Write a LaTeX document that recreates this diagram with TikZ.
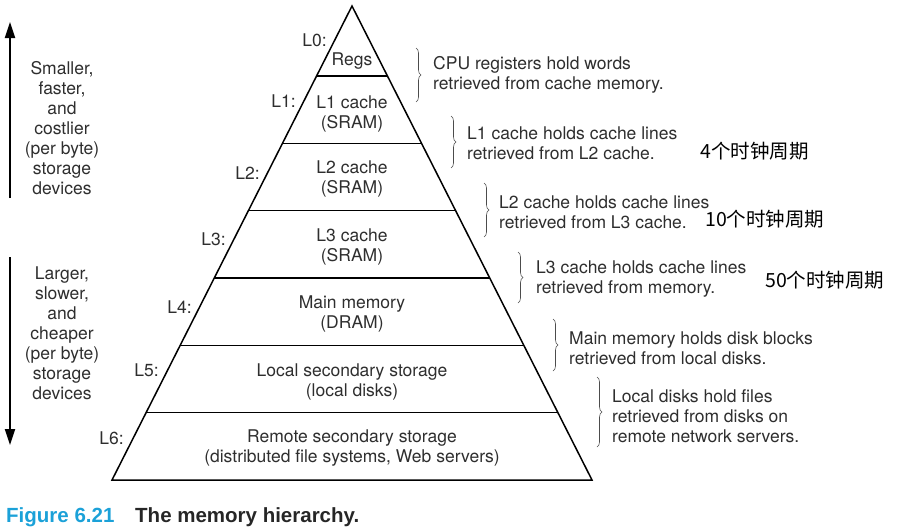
\documentclass[tikz,border=0pt]{standalone}
\usepackage{fontspec}
\setmainfont{TeX Gyre Heros}
\newfontfamily\cjkfont{Noto Sans CJK SC}
\newfontfamily\capfont{Liberation Sans}
\usetikzlibrary{arrows.meta,decorations.pathreplacing,calc}
\definecolor{txt}{HTML}{2E2E2E}
\definecolor{figblue}{HTML}{1BA1D8}
\begin{document}
\begin{tikzpicture}[x=1pt,y=-1pt,
 lbl/.style={font=\fontsize{17.5}{20}\selectfont, text=txt, inner sep=0pt, align=center},
 side/.style={lbl, anchor=west, align=left},
 lev/.style={lbl, anchor=east},
 brc/.style={decorate, decoration={brace, amplitude=5pt}, draw=black!70, line width=0.6pt},
 pyr/.style={line width=1.5pt, line join=miter},
 cn/.style={font=\cjkfont\fontsize{19.5}{20}\selectfont, anchor=west, inner sep=0pt},
 bigarrow/.style={line width=1.8pt, -{Triangle[length=16pt,width=10pt]}}]
\useasboundingbox (0,0) rectangle (901,531);

% pyramid
\coordinate (T) at (352,6);
\coordinate (BL) at (112,480);
\coordinate (BR) at (592,480);
\draw[pyr] (BL) -- (T) -- (BR) -- cycle;
\foreach \t [count=\i] in {0.14768,0.28973,0.43178,0.57384,0.71589,0.85794}{
  \coordinate (l\i) at ($(T)!\t!(BL)$);
  \coordinate (r\i) at ($(T)!\t!(BR)$);
  \draw[pyr] (l\i) -- (r\i);
}

% level contents
\node[lbl] (n0) at (352,61) {Regs};
\node[lbl] (n1) at (352,114) {L1 cache\\(SRAM)};
\node[lbl] (n2) at (352,179) {L2 cache\\(SRAM)};
\node[lbl] (n3) at (352,246.5) {L3 cache\\(SRAM)};
\node[lbl] (n4) at (352,314) {Main memory\\(DRAM)};
\node[lbl] (n5) at (352,382) {Local secondary storage\\(local disks)};
\node[lbl] (n6) at (352,448.5) {Remote secondary storage\\(distributed file systems, Web servers)};

% level labels
\node[lev] (L0) at (327,40) {L0:};
\node[lev] (L1) at (296,101) {L1:};
\node[lev] (L2) at (260,173) {L2:};
\node[lev] (L3) at (226,239) {L3:};
\node[lev] (L4) at (192,307) {L4:};
\node[lev] (L5) at (159,370) {L5:};
\node[lev] (L6) at (124,438) {L6:};

% braces
\coordinate (b0t) at (416,48);  \coordinate (b0b) at (416,102);
\coordinate (b1t) at (451,116); \coordinate (b1b) at (451,168);
\coordinate (b2t) at (484,183); \coordinate (b2b) at (484,237);
\coordinate (b3t) at (518,252); \coordinate (b3b) at (518,303);
\coordinate (b4t) at (553,319); \coordinate (b4b) at (553,371);
\coordinate (b5t) at (597,377); \coordinate (b5b) at (597,447);
\foreach \i in {0,...,5}{\draw[brc] (b\i t) -- (b\i b);}

% side descriptions
\node[side] (d0) at (433,75) {CPU registers hold words\\retrieved from cache memory.};
\node[side] (d1) at (467,143.5) {L1 cache holds cache lines\\retrieved from L2 cache.};
\node[side] (d2) at (499,212.5) {L2 cache holds cache lines\\retrieved from L3 cache.};
\node[side] (d3) at (536,279) {L3 cache holds cache lines\\retrieved from memory.};
\node[side] (d4) at (569,348) {Main memory holds disk blocks\\retrieved from local disks.};
\node[side] (d5) at (612,416.5) {Local disks hold files\\retrieved from disks on\\remote network servers.};

% chinese notes
\node[cn] (c1) at (700,151) {4个时钟周期};
\node[cn] (c2) at (705,219) {10个时钟周期};
\node[cn] (c3) at (765,280) {50个时钟周期};

% left arrows and texts
\coordinate (ua0) at (10,198); \coordinate (ua1) at (10,22);
\coordinate (da0) at (10,257); \coordinate (da1) at (10,445);
\draw[bigarrow] (ua0) -- (ua1);
\draw[bigarrow] (da0) -- (da1);
\node[lbl] (up) at (62,128.5) {Smaller,\\faster,\\and\\costlier\\(per byte)\\storage\\devices};
\node[lbl] (down) at (62,333.5) {Larger,\\slower,\\and\\cheaper\\(per byte)\\storage\\devices};

% caption
\node[anchor=base west, inner sep=0pt, font=\capfont\bfseries\fontsize{20.5}{24}\selectfont, text=figblue] (fig) at (6,522) {Figure 6.21};
\node[anchor=base west, inner sep=0pt, font=\capfont\bfseries\fontsize{20.5}{24}\selectfont, text=black!85] (cap) at (135,522) {The memory hierarchy.};
\end{tikzpicture}
\end{document}
